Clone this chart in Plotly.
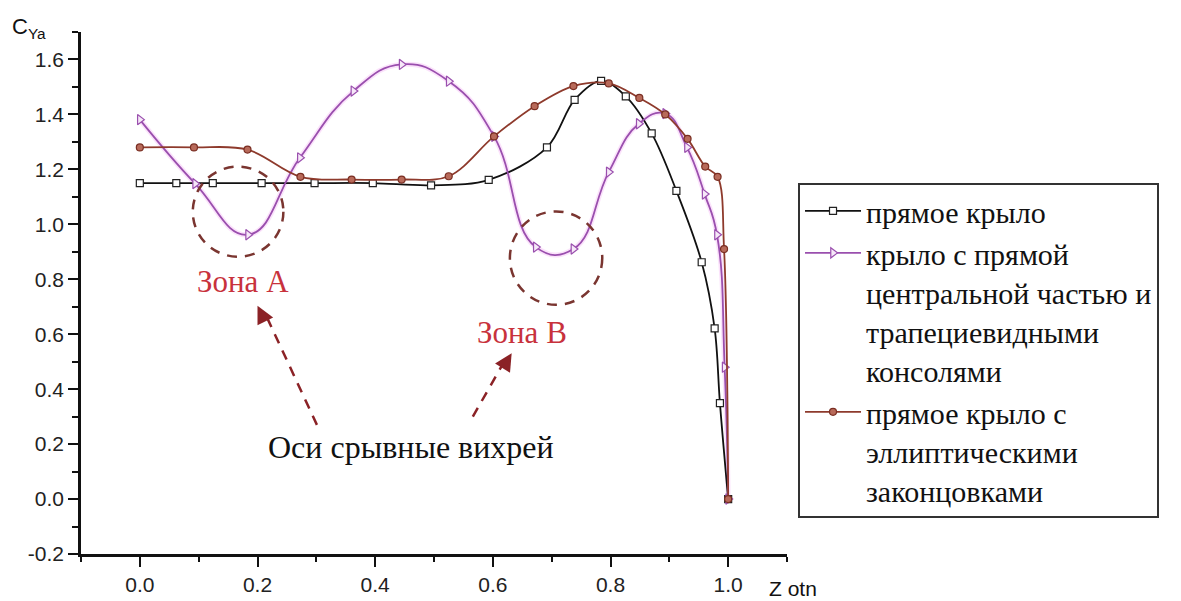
import plotly.graph_objects as go

# ---- data ----
x_straight = [0.0, 0.062, 0.124, 0.207, 0.297, 0.396, 0.495, 0.593, 0.692, 0.739,
              0.784, 0.826, 0.870, 0.912, 0.955, 0.977, 0.986, 1.0]
y_straight = [1.15, 1.15, 1.15, 1.15, 1.15, 1.15, 1.142, 1.162, 1.28, 1.453,
              1.522, 1.466, 1.331, 1.122, 0.862, 0.621, 0.349, 0.0]

x_trap = [0.0, 0.094, 0.184, 0.272, 0.363, 0.445, 0.525, 0.602, 0.673, 0.737,
          0.797, 0.848, 0.893, 0.930, 0.960, 0.981, 0.994, 1.0]
y_trap = [1.381, 1.148, 0.962, 1.242, 1.485, 1.582, 1.521, 1.32, 0.917, 0.91,
          1.19, 1.366, 1.403, 1.28, 1.11, 0.962, 0.48, 0.0]

x_ellip = [0.0, 0.092, 0.183, 0.273, 0.360, 0.445, 0.525, 0.602, 0.671, 0.737,
           0.797, 0.849, 0.893, 0.931, 0.961, 0.982, 0.993, 1.0]
y_ellip = [1.28, 1.28, 1.272, 1.173, 1.163, 1.163, 1.175, 1.32, 1.43, 1.503,
           1.513, 1.46, 1.40, 1.311, 1.21, 1.173, 0.91, 0.0]

names = ["прямое крыло",
         "крыло с прямой<br>центральной частью и<br>трапециевидными<br>консолями",
         "прямое крыло с<br>эллиптическими<br>законцовками"]

x_ticks = [0.0, 0.2, 0.4, 0.6, 0.8, 1.0]
y_ticks = [-0.2, 0.0, 0.2, 0.4, 0.6, 0.8, 1.0, 1.2, 1.4, 1.6]

SERIF = "Liberation Serif"
SANS = "Liberation Sans"

fig = go.Figure()

# faint pink glow under the purple line
fig.add_trace(go.Scatter(x=x_trap, y=y_trap, mode="lines", showlegend=False,
                         hoverinfo="skip",
                         line=dict(color="rgba(240,140,240,0.25)", width=5,
                                   shape="spline", smoothing=1.3)))

fig.add_trace(go.Scatter(
    x=x_straight, y=y_straight, mode="lines+markers", name=names[0],
    line=dict(color="#111111", width=1.8, shape="spline", smoothing=1.0),
    marker=dict(symbol="square", size=7, color="white",
                line=dict(color="#222222", width=1.2))))

fig.add_trace(go.Scatter(
    x=x_trap, y=y_trap, mode="lines+markers", name=names[1],
    line=dict(color="#9a4fae", width=1.8, shape="spline", smoothing=1.3),
    marker=dict(symbol="triangle-right", size=9, color="#f6e8f8",
                line=dict(color="#9a4fae", width=1.2))))

fig.add_trace(go.Scatter(
    x=x_ellip, y=y_ellip, mode="lines+markers", name=names[2],
    line=dict(color="#8e3a2c", width=1.8, shape="spline", smoothing=1.0),
    marker=dict(symbol="circle", size=7, color="#b86a5a",
                line=dict(color="#7a2e22", width=1.2))))

# dashed circles (zones)
circ_col = "#7a3530"
fig.add_shape(type="circle", xref="x", yref="y", x0=0.090, x1=0.244, y0=0.882, y1=1.21,
              line=dict(color=circ_col, width=2.5, dash="10px,8px"))
fig.add_shape(type="circle", xref="x", yref="y", x0=0.629, x1=0.786, y0=0.707, y1=1.047,
              line=dict(color=circ_col, width=2.5, dash="10px,8px"))

# dashed arrow shafts
arr_col = "#8b2226"
fig.add_shape(type="line", xref="x", yref="y", x0=0.301, y0=0.270, x1=0.212, y1=0.68,
              line=dict(color=arr_col, width=2.5, dash="10px,8px"))
fig.add_shape(type="line", xref="x", yref="y", x0=0.566, y0=0.300, x1=0.622, y1=0.51,
              line=dict(color=arr_col, width=2.5, dash="10px,8px"))
# arrow heads
fig.add_annotation(x=0.2, y=0.7035, xref="x", yref="y", text="", showarrow=True,
                   ax=0.448 * 16, ay=0.894 * 16, arrowhead=2, arrowsize=1.4,
                   arrowwidth=2.5, arrowcolor=arr_col)
fig.add_annotation(x=0.632, y=0.531, xref="x", yref="y", text="", showarrow=True,
                   ax=-0.521 * 16, ay=0.853 * 16, arrowhead=2, arrowsize=1.4,
                   arrowwidth=2.5, arrowcolor=arr_col)

zone_col = "#c8323c"
fig.add_annotation(x=0.175, y=0.791, xref="x", yref="y", text="Зона А", showarrow=False,
                   font=dict(family=SERIF, size=31, color=zone_col))
fig.add_annotation(x=0.649, y=0.605, xref="x", yref="y", text="Зона В", showarrow=False,
                   font=dict(family=SERIF, size=31, color=zone_col))
fig.add_annotation(x=0.461, y=0.190, xref="x", yref="y", text="Оси срывные вихрей",
                   showarrow=False, font=dict(family=SERIF, size=32, color="#111111"))

# axis titles
fig.add_annotation(x=-0.1006, y=1.008, xref="paper", yref="paper", xanchor="left",
                   yanchor="middle", text="C<sub>Ya</sub>", showarrow=False,
                   font=dict(family=SANS, size=22, color="#111111"))
fig.add_annotation(x=1.0085, y=-0.066, xref="paper", yref="paper", xanchor="center",
                   yanchor="middle", text="Z otn", showarrow=False,
                   font=dict(family=SANS, size=21, color="#111111"))

fig.update_xaxes(range=[-0.1, 1.1], tickvals=x_ticks,
                 ticktext=[f"{v:.1f}" for v in x_ticks],
                 showgrid=False, zeroline=False, showline=True, linecolor="#111111",
                 linewidth=2.5, ticks="outside", ticklen=10, tickwidth=2,
                 tickcolor="#111111", automargin=False,
                 tickfont=dict(family=SANS, size=21, color="#222222"),
                 minor=dict(dtick=0.1, tick0=0, ticks="outside", ticklen=5,
                            tickwidth=2, tickcolor="#111111", showgrid=False))
fig.update_yaxes(range=[-0.2, 1.7], tickvals=y_ticks,
                 ticktext=[f"{v:.1f}" for v in y_ticks],
                 showgrid=False, zeroline=False, showline=True, linecolor="#111111",
                 linewidth=2.5, ticks="outside", ticklen=10, tickwidth=2,
                 tickcolor="#111111", automargin=False,
                 tickfont=dict(family=SANS, size=21, color="#222222"),
                 minor=dict(dtick=0.1, tick0=0.1, ticks="outside", ticklen=6,
                            tickwidth=2, tickcolor="#111111", showgrid=False))

fig.update_layout(
    width=1181, height=601,
    margin=dict(l=81, r=394, t=32, b=47),
    paper_bgcolor="white", plot_bgcolor="white",
    legend=dict(x=1.0156, y=0.711, xanchor="left", yanchor="top",
                bordercolor="#333333", borderwidth=2, bgcolor="white",
                font=dict(family=SERIF, size=30, color="#111111"),
                valign="top", itemwidth=56, tracegroupgap=10,
                entrywidth=310, entrywidthmode="pixels"),
)

fig.write_html("out.html", config={"displayModeBar": False},
               post_script="document.body.style.margin='0';document.body.style.overflow='hidden';")
